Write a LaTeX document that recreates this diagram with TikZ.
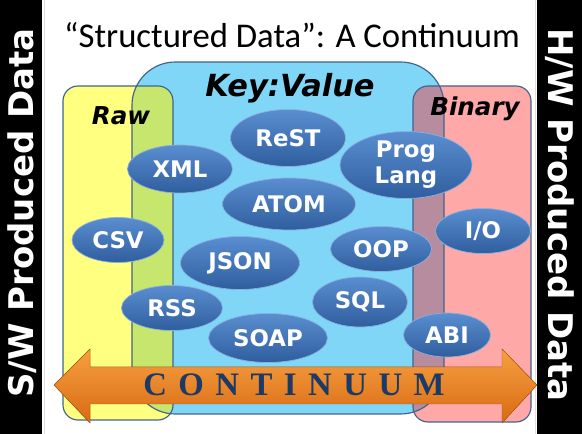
\documentclass[tikz,border=0pt]{standalone}
\usepackage{fontspec}
\setmainfont{Carlito}
\newfontfamily\boldsans{DejaVu Sans}
\newfontfamily\stencilish[LetterSpace=35]{Liberation Serif}
\usetikzlibrary{shapes.geometric}
\definecolor{rawyellow}{HTML}{FFFF80}
\definecolor{kvblue}{HTML}{80D6F6}
\definecolor{binpink}{HTML}{FFA8A8}
\definecolor{rawkv}{HTML}{C6E66E}
\definecolor{kvbin}{HTML}{B68C9E}
\definecolor{edgeblue}{HTML}{41648E}
\definecolor{blobtop}{HTML}{5A8ED0}
\definecolor{blobbot}{HTML}{2F5E9E}
\definecolor{arrowtop}{HTML}{F7A040}
\definecolor{arrowbot}{HTML}{D86A14}
\definecolor{navytext}{HTML}{1C3A66}
\begin{document}
\begin{tikzpicture}[
  zone/.style={draw=edgeblue,line width=1pt},
  blob/.style={ellipse,draw=blobtop!70!white,line width=0.6pt,top color=blobtop,bottom color=blobbot,
    text=white,inner sep=0pt,align=center,font=\boldsans\bfseries\fontsize{19.5}{22}\selectfont},
  zonelabel/.style={font=\boldsans\bfseries\itshape\fontsize{21}{24}\selectfont},
  sidebar/.style={text=white,font=\boldsans\bfseries\fontsize{29}{32}\selectfont}]
\useasboundingbox (0,0) rectangle (17.46,13.02);
\fill[white] (0,0) rectangle (17.46,13.02);
% side bars
\fill[black] (0,0) rectangle (1.26,13.02);
\fill[black] (16.11,0) rectangle (17.46,13.02);
\draw[gray!25] (1.32,0) -- (1.32,13.02);
\draw[gray!25] (16.05,0) -- (16.05,13.02);
\node[sidebar,rotate=90] (swdata) at (0.66,6.63) {S/W Produced Data};
\node[sidebar,rotate=-90] (hwdata) at (16.79,6.57) {H/W Produced Data};
\node[font=\fontsize{29.6}{32}\selectfont] (title) at (8.76,11.97) {“Structured Data”: A Continuum};
% the three zones
\fill[rawyellow,rounded corners=0.45cm] (1.89,0.42) rectangle (5.19,10.44);
\fill[kvblue,rounded corners=1.3cm] (3.96,0.6) rectangle (13.32,11.16);
\fill[binpink,rounded corners=0.45cm] (12.39,0.36) rectangle (15.93,10.44);
\begin{scope}
  \clip[rounded corners=0.45cm] (1.89,0.42) rectangle (5.19,10.44);
  \fill[rawkv,rounded corners=1.3cm] (3.96,0.6) rectangle (13.32,11.16);
\end{scope}
\begin{scope}
  \clip[rounded corners=0.45cm] (12.39,0.36) rectangle (15.93,10.44);
  \fill[kvbin,rounded corners=1.3cm] (3.96,0.6) rectangle (13.32,11.16);
\end{scope}
\draw[zone,rounded corners=0.45cm] (1.89,0.42) rectangle (5.19,10.44);
\draw[zone,rounded corners=1.3cm] (3.96,0.6) rectangle (13.32,11.16);
\draw[zone,rounded corners=0.45cm] (12.39,0.36) rectangle (15.93,10.44);
\node[zonelabel] (raw) at (3.63,9.54) {Raw};
\node[zonelabel,font=\boldsans\bfseries\itshape\fontsize{26}{28}\selectfont] (keyvalue) at (8.70,10.38) {Key:Value};
\node[zonelabel] (binary) at (14.25,9.75) {Binary};
% formats
\node[blob,minimum width=3.45cm,minimum height=1.71cm] (rest) at (8.64,8.88) {ReST};
\node[blob,minimum width=3.15cm,minimum height=1.44cm] (xml) at (5.40,7.95) {XML};
\node[blob,minimum width=3.99cm,minimum height=1.56cm] (atom) at (8.67,6.90) {ATOM};
\node[blob,minimum width=3.96cm,minimum height=1.98cm] (proglang) at (12.18,8.07) {Prog\\Lang};
\node[blob,minimum width=2.76cm,minimum height=1.35cm] (csv) at (3.54,5.82) {CSV};
\node[blob,minimum width=2.85cm,minimum height=1.35cm] (io) at (14.49,6.09) {I/O};
\node[blob,minimum width=3.03cm,minimum height=1.35cm] (oop) at (11.43,5.55) {OOP};
\node[blob,minimum width=3.57cm,minimum height=1.59cm] (json) at (7.20,5.13) {JSON};
\node[blob,minimum width=2.85cm,minimum height=1.50cm] (sql) at (10.80,3.96) {SQL};
\node[blob,minimum width=3.03cm,minimum height=1.35cm] (rss) at (5.16,3.78) {RSS};
\node[blob,minimum width=3.57cm,minimum height=1.47cm] (soap) at (8.04,2.88) {SOAP};
\node[blob,minimum width=2.61cm,minimum height=1.32cm] (abi) at (13.41,2.97) {ABI};
% continuum arrow
\fill[top color=arrowtop,bottom color=arrowbot,draw=arrowbot!80!black,line width=0.4pt]
  (1.62,1.47) -- (2.70,2.55) -- (2.70,2.01) -- (15.06,2.01) -- (15.06,2.55) -- (16.11,1.47)
  -- (15.06,0.33) -- (15.06,0.90) -- (2.70,0.90) -- (2.70,0.33) -- cycle;
\node[text=navytext,font=\stencilish\bfseries\fontsize{28}{30}\selectfont] (continuum) at (8.82,1.47) {CONTINUUM};
\end{tikzpicture}
\end{document}
